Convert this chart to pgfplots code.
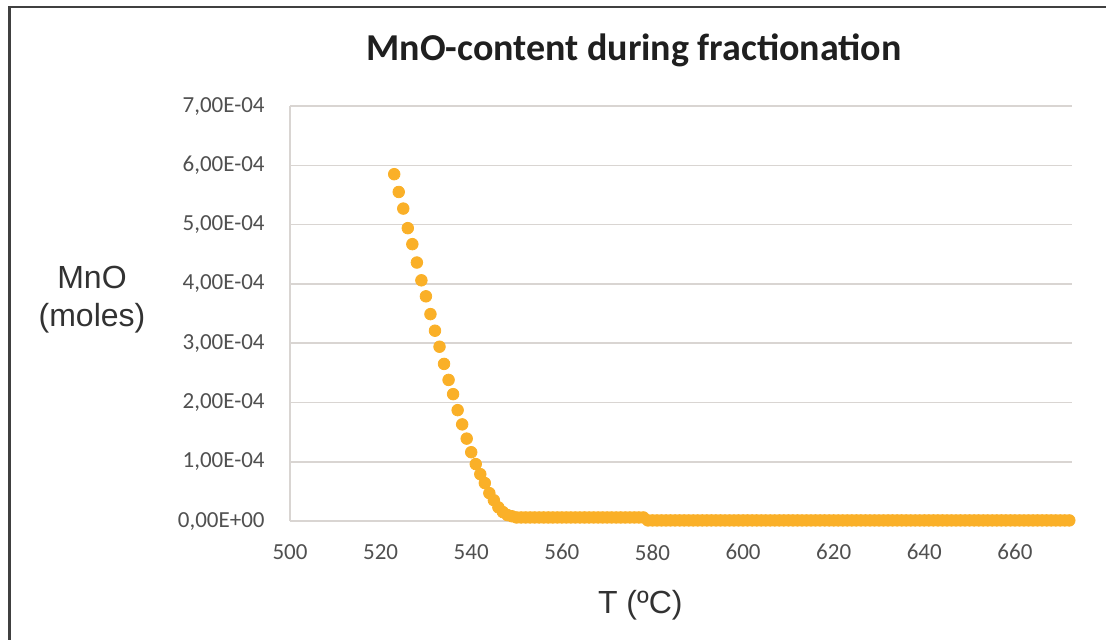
\documentclass[border=0pt]{standalone}
\usepackage{fontspec}
\setmainfont{Carlito}
\newfontfamily\arialfont{Liberation Sans}
\usepackage{pgfplots}
\pgfplotsset{compat=1.18}
\definecolor{dot}{RGB}{250,176,40}
\definecolor{gridc}{RGB}{217,213,210}
\definecolor{ticktxt}{RGB}{80,80,80}
\definecolor{labtxt}{RGB}{50,50,50}
\begin{document}
\begin{tikzpicture}
\path[use as bounding box] (0pt,0pt) rectangle (553pt,319.5pt);
\clip (0pt,0pt) rectangle (553pt,319.5pt);
\draw[line width=1.1pt, black!75] (4.7pt,-10pt) -- (4.7pt,316pt) -- (600pt,316pt);
\begin{axis}[
  at={(145pt,59pt)}, anchor=south west,
  scale only axis, width=391pt, height=207.5pt,
  xmin=500, xmax=672.6, ymin=0, ymax=7e-4,
  xtick={500,520,...,660},
  ytick={0,1e-4,2e-4,3e-4,4e-4,5e-4,6e-4,7e-4},
  yticklabels={{0,00E+00},{1,00E-04},{2,00E-04},{3,00E-04},{4,00E-04},{5,00E-04},{6,00E-04},{7,00E-04}},
  scaled y ticks=false,
  axis x line*=bottom, axis y line*=left,
  axis line style={gridc, line width=0.8pt, -},
  major tick length=0pt,
  ymajorgrids, grid style={gridc, line width=0.8pt},
  tick label style={font=\fontsize{11.5}{13}\selectfont, text=ticktxt},
  yticklabel style={inner sep=0pt, anchor=east, xshift=-12.5pt},
  xticklabel style={inner sep=0pt, anchor=north, yshift=-11.5pt},
  /pgf/number format/assume math mode=true,
  title={MnO-content during fractionation},
  every axis title/.style={at={(axis description cs:0.44,1)}, anchor=center, yshift=28pt, font=\bfseries\fontsize{19}{22}\selectfont, text=black!88},
  xlabel={T (ºC)},
  every axis x label/.style={at={(axis description cs:0.448,0)}, anchor=center, yshift=-42pt, font=\arialfont\fontsize{16}{19}\selectfont, text=labtxt},
  ylabel={MnO\\(moles)},
  every axis y label/.style={at={(axis description cs:0,0.533)}, anchor=center, xshift=-99pt, align=center, font=\arialfont\fontsize{16}{19}\selectfont, text=labtxt},
  clip=false,
]
\addplot[only marks, mark=*, mark size=2.9pt, color=dot, mark options={draw=dot, fill=dot}] coordinates {
(523,5.85e-4)(524,5.55e-4)(525,5.27e-4)(526,4.94e-4)(527,4.67e-4)(528,4.36e-4)
(529,4.06e-4)(530,3.79e-4)(531,3.49e-4)(532,3.21e-4)(533,2.94e-4)(534,2.65e-4)
(535,2.38e-4)(536,2.14e-4)(537,1.87e-4)(538,1.63e-4)(539,1.39e-4)(540,1.16e-4)
(541,0.96e-4)(542,0.79e-4)(543,0.64e-4)(544,0.47e-4)(545,0.35e-4)(546,0.23e-4)
(547,0.15e-4)(548,0.10e-4)(549,0.08e-4)
(550,6e-6)(551,6e-6)(552,6e-6)(553,6e-6)(554,6e-6)(555,6e-6)(556,6e-6)(557,6e-6)
(558,6e-6)(559,6e-6)(560,6e-6)(561,6e-6)(562,6e-6)(563,6e-6)(564,6e-6)(565,6e-6)
(566,6e-6)(567,6e-6)(568,6e-6)(569,6e-6)(570,6e-6)(571,6e-6)(572,6e-6)(573,6e-6)
(574,6e-6)(575,6e-6)(576,6e-6)(577,6e-6)(578,6e-6)
(579,1e-6)(580,1e-6)(581,1e-6)(582,1e-6)(583,1e-6)(584,1e-6)(585,1e-6)(586,1e-6)
(587,1e-6)(588,1e-6)(589,1e-6)(590,1e-6)(591,1e-6)(592,1e-6)(593,1e-6)(594,1e-6)
(595,1e-6)(596,1e-6)(597,1e-6)(598,1e-6)(599,1e-6)(600,1e-6)(601,1e-6)(602,1e-6)
(603,1e-6)(604,1e-6)(605,1e-6)(606,1e-6)(607,1e-6)(608,1e-6)(609,1e-6)(610,1e-6)
(611,1e-6)(612,1e-6)(613,1e-6)(614,1e-6)(615,1e-6)(616,1e-6)(617,1e-6)(618,1e-6)
(619,1e-6)(620,1e-6)(621,1e-6)(622,1e-6)(623,1e-6)(624,1e-6)(625,1e-6)(626,1e-6)
(627,1e-6)(628,1e-6)(629,1e-6)(630,1e-6)(631,1e-6)(632,1e-6)(633,1e-6)(634,1e-6)
(635,1e-6)(636,1e-6)(637,1e-6)(638,1e-6)(639,1e-6)(640,1e-6)(641,1e-6)(642,1e-6)
(643,1e-6)(644,1e-6)(645,1e-6)(646,1e-6)(647,1e-6)(648,1e-6)(649,1e-6)(650,1e-6)
(651,1e-6)(652,1e-6)(653,1e-6)(654,1e-6)(655,1e-6)(656,1e-6)(657,1e-6)(658,1e-6)
(659,1e-6)(660,1e-6)(661,1e-6)(662,1e-6)(663,1e-6)(664,1e-6)(665,1e-6)(666,1e-6)
(667,1e-6)(668,1e-6)(669,1e-6)(670,1e-6)(671,1e-6)(672,1e-6)
};
\end{axis}
\end{tikzpicture}
\end{document}
